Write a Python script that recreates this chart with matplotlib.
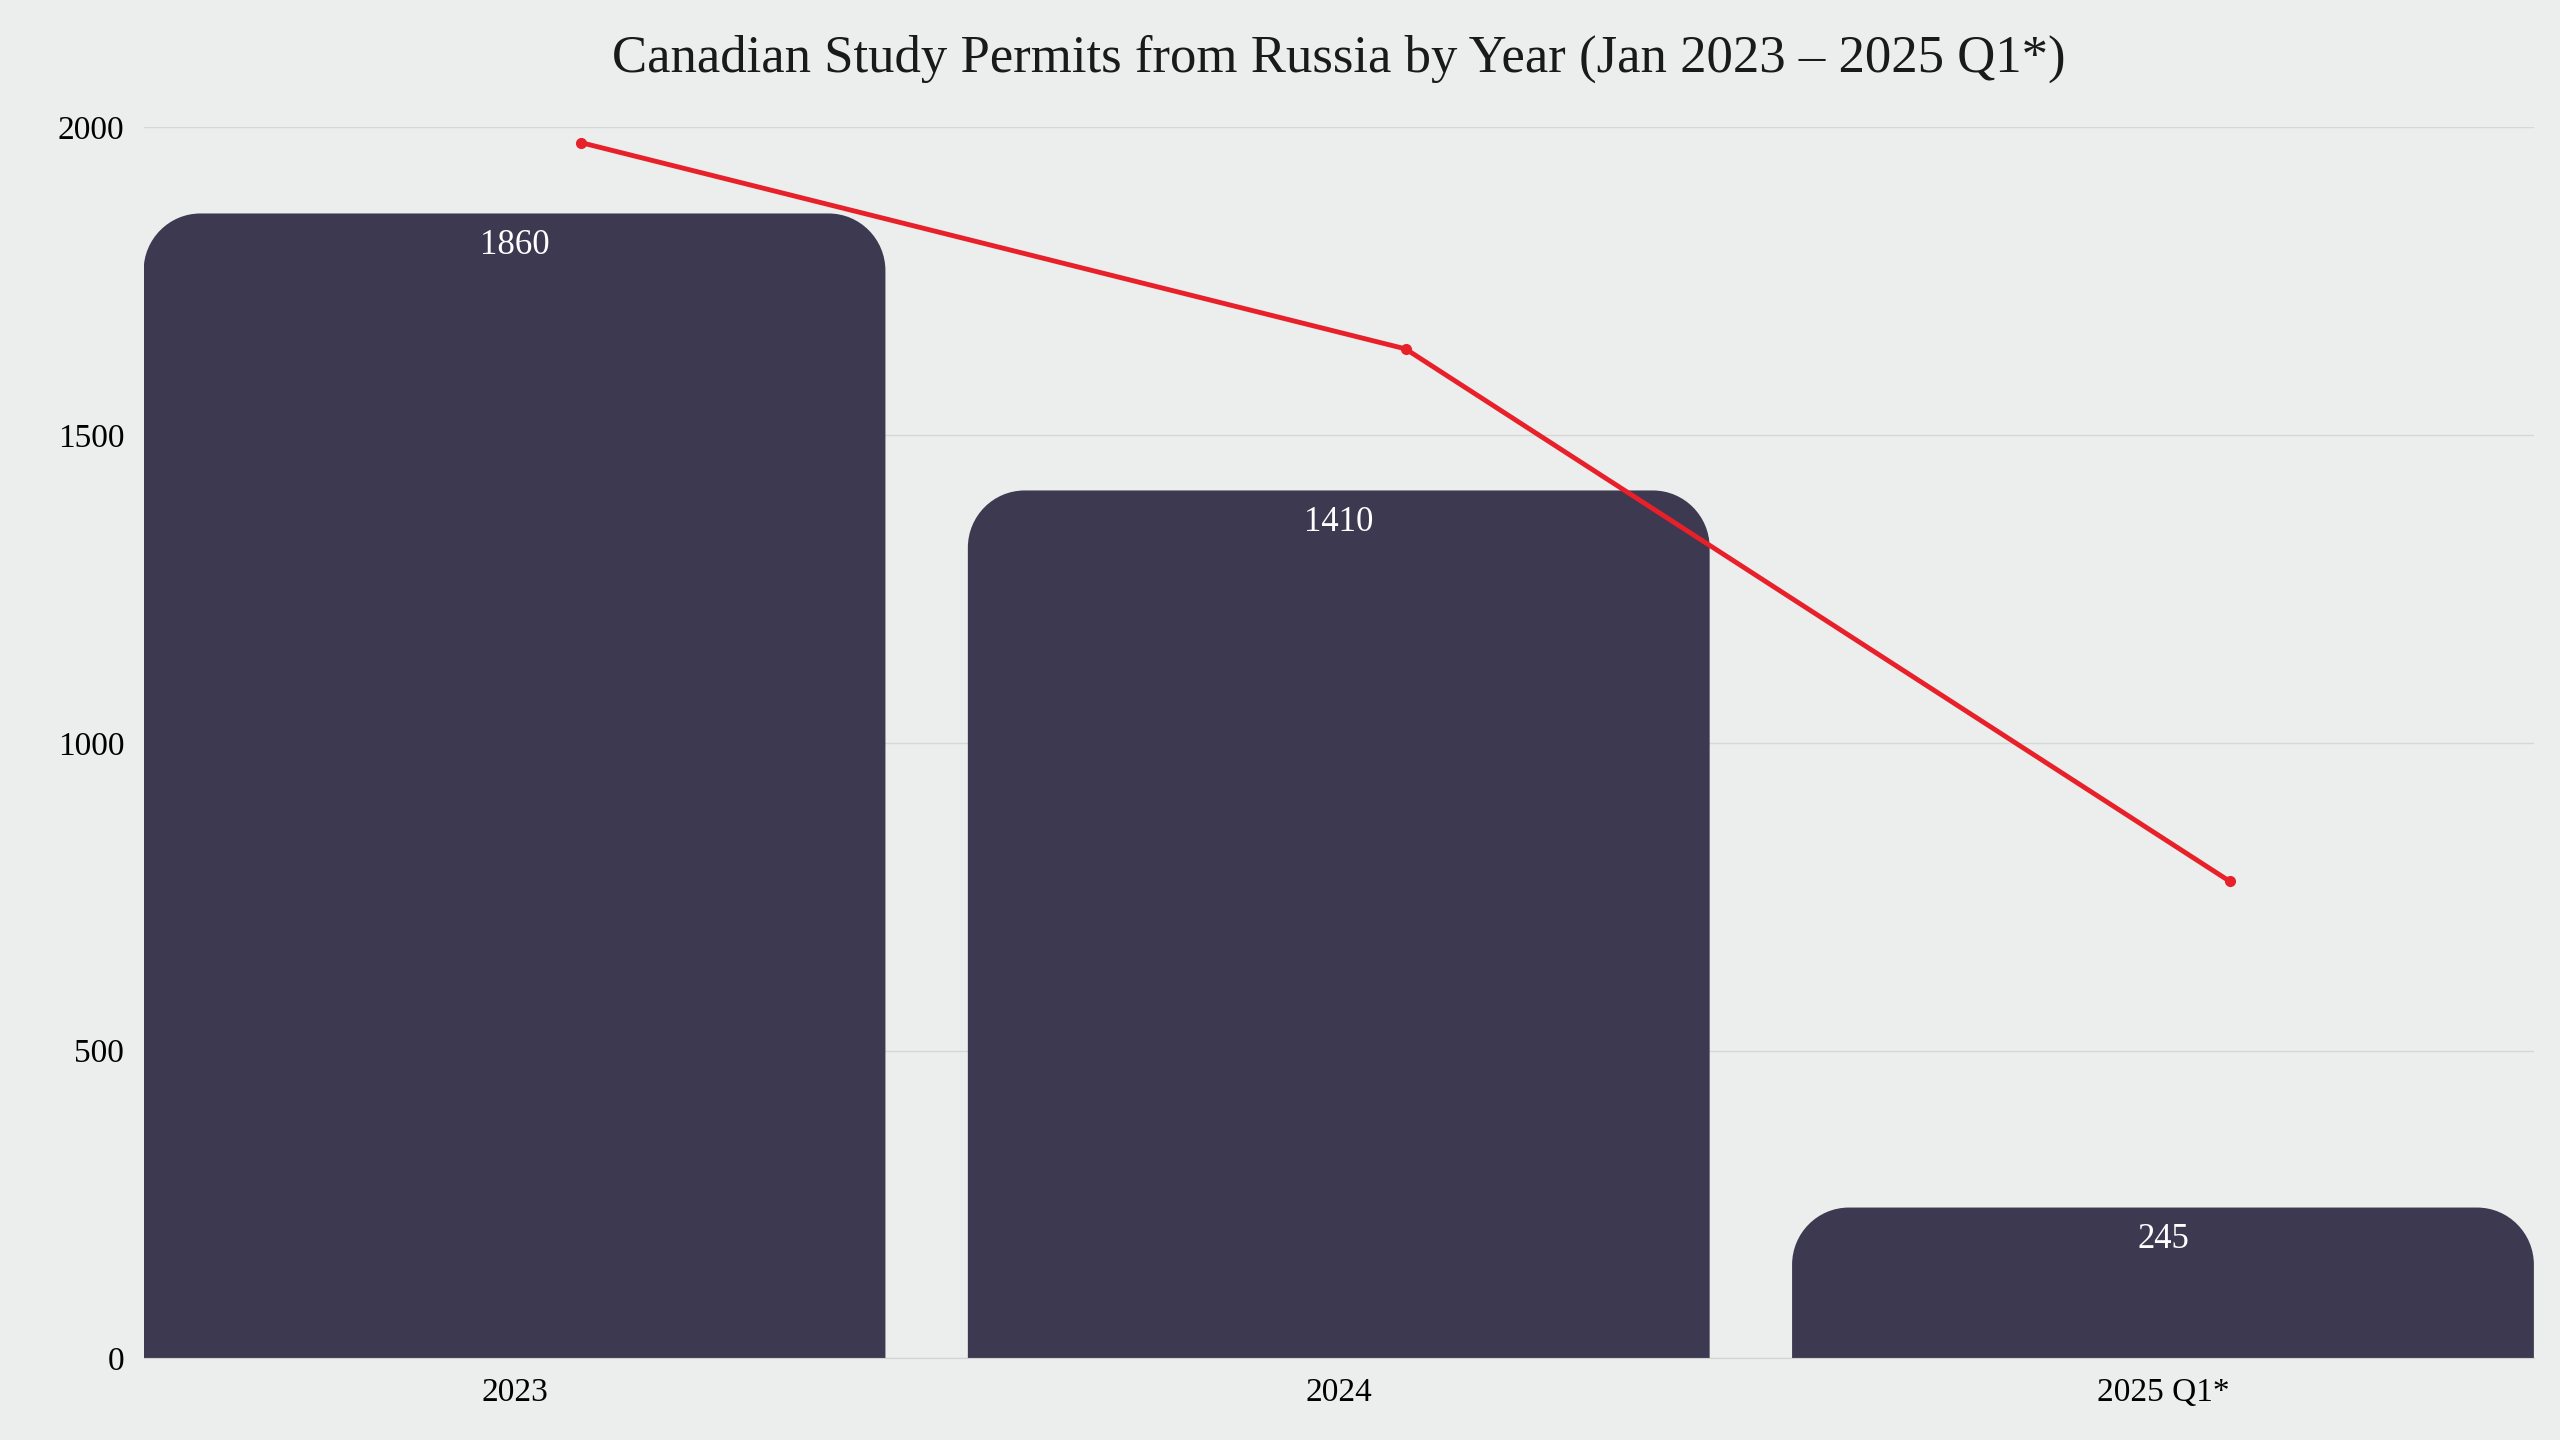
import matplotlib
matplotlib.use("Agg")
import matplotlib.pyplot as plt
from matplotlib.path import Path
from matplotlib.patches import PathPatch

categories = ["2023", "2024", "2025 Q1*"]
permits = [1860, 1410, 245]
trend = [1975, 1640, 775]
yticks = [0, 500, 1000, 1500, 2000]

bg = "#ebeeec"
bar_color = "#3d3950"
red = "#e8202a"
plt.rcParams["font.family"] = "Liberation Serif"

fig = plt.figure(figsize=(25.6, 14.4), dpi=100, facecolor=bg)
ax = fig.add_axes([0.0561, 0.0567, 0.9337, 0.8549], facecolor=bg)
ax.set_xlim(-0.45, 2.45)
ax.set_ylim(0, 2000)

w = 0.9
rx, ry = 0.069, 93
k = 0.5523
for i, v in enumerate(permits):
    x0, x1 = i - w / 2, i + w / 2
    verts = [(x0, 0), (x0, v - ry),
             (x0, v - ry + k * ry), (x0 + rx - k * rx, v), (x0 + rx, v),
             (x1 - rx, v),
             (x1 - rx + k * rx, v), (x1, v - ry + k * ry), (x1, v - ry),
             (x1, 0), (x0, 0)]
    codes = [Path.MOVETO, Path.LINETO, Path.CURVE4, Path.CURVE4, Path.CURVE4,
             Path.LINETO, Path.CURVE4, Path.CURVE4, Path.CURVE4,
             Path.LINETO, Path.CLOSEPOLY]
    ax.add_patch(PathPatch(Path(verts, codes), facecolor=bar_color, edgecolor="none", zorder=2))
    ax.text(i, v - 25, str(v), ha="center", va="top", color="white", fontsize=25, zorder=4)

xs = [i + 0.081 for i in range(len(trend))]
ax.plot(xs, trend, color=red, lw=3.5, marker="o", ms=7, zorder=3)

ax.set_xticks(range(len(categories)))
ax.set_xticklabels(categories, fontsize=24)
ax.set_yticks(yticks)
ax.set_yticklabels([str(t) for t in yticks], fontsize=24)
ax.tick_params(length=0, pad=14)
ax.yaxis.grid(True, color="#d4d8d6", lw=1, zorder=0)
ax.set_axisbelow(True)
for s in ["top", "right", "left"]:
    ax.spines[s].set_visible(False)
ax.spines["bottom"].set_color("#cfd3d1")
ax.set_title("Canadian Study Permits from Russia by Year (Jan 2023 – 2025 Q1*)",
             fontsize=38, pad=40, color="#1a1a1a")
fig.savefig("out.png", facecolor=bg)
